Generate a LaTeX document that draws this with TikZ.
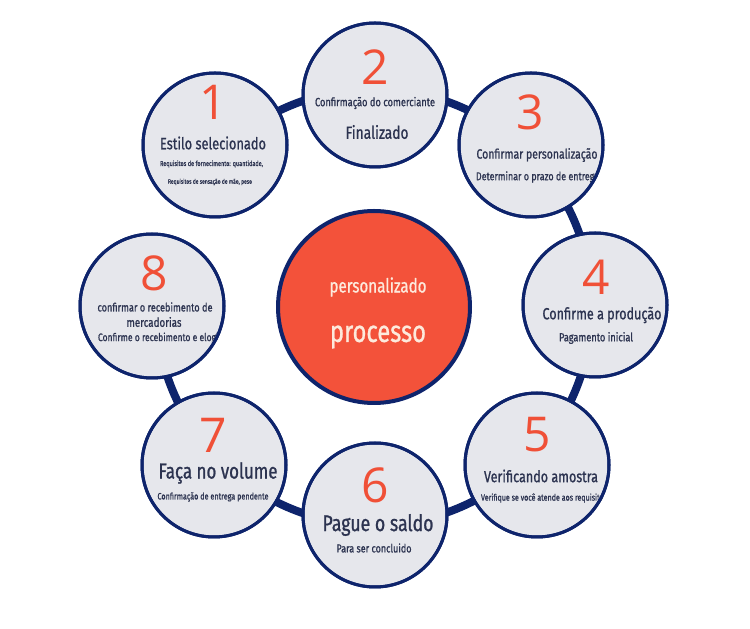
\documentclass[tikz,border=0pt]{standalone}
\usepackage{fontspec}
\usepackage{graphicx}
\newfontfamily\cf{Fira Sans}[FakeStretch=0.78,FakeBold=0.9]
\newfontfamily\nf{Open Sans}
\definecolor{navy}{RGB}{14,36,108}
\definecolor{bubfill}{RGB}{230,231,236}
\definecolor{coral}{RGB}{243,82,58}
\definecolor{numc}{RGB}{240,80,55}
\definecolor{txt}{RGB}{44,51,80}
\definecolor{cream}{RGB}{253,234,220}
\newcommand\tw[2]{\resizebox{#1pt}{!}{\cf #2}}
\begin{document}
\begin{tikzpicture}[x=1pt,y=1pt,
  bub/.style={circle,fill=bubfill,draw=navy,line width=3pt,minimum size=144pt,inner sep=0pt},
  hub/.style={circle,fill=coral,draw=navy,line width=4pt,minimum size=192pt,inner sep=0pt},
  ring/.style={draw=navy,line width=8pt},
  outl/.style={draw=navy,line width=3pt},
  num/.style={text=numc,font=\nf\fontsize{48}{48}\selectfont,inner sep=0pt},
  lbl/.style={text=txt,inner sep=0pt},
  hlbl/.style={text=cream,inner sep=0pt}]
\useasboundingbox (0,0) rectangle (750,629);
\coordinate (ctr) at (374,322);
\draw[ring] ([shift={(135:218)}]ctr) arc[start angle=135,end angle=-180,radius=218];
\node[hub] (c0) at (374,322) {};
\node[bub] (c1) at (215,484) {};
\node[bub] (c2) at (375,534) {};
\node[bub] (c3) at (531,484) {};
\node[bub] (c4) at (595,324) {};
\node[bub] (c5) at (537,164) {};
\node[bub] (c6) at (375,114) {};
\node[bub] (c7) at (214,164) {};
\node[bub] (c8) at (152,323) {};
% center
\node[hlbl] (h1) at (378,342) {\tw{97}{personalizado}};
\node[hlbl] (h2) at (378,292) {\tw{96}{processo}};
% 1
\begin{scope}
\clip (c1) circle[radius=73.5];
\node[num] (n1) at (213,527) {1};
\node[lbl] (t1a) at (213,486) {\tw{106}{Estilo selecionado}};
\node[lbl] (t1b) at (211.5,465) {\tw{103}{Requisitos de fornecimento: quantidade,}};
\node[lbl] (t1c) at (210,447) {\tw{84}{Requisitos de sensação de mão, peso}};
\end{scope}
% 2
\begin{scope}
\clip (c2) circle[radius=73.5];
\node[num] (n2) at (375,562) {2};
\node[lbl] (t2a) at (375,526) {\tw{120}{Confirmação do comerciante}};
\node[lbl] (t2b) at (377,497) {\tw{63}{Finalizado}};
\end{scope}
% 3
\begin{scope}
\clip (c3) circle[radius=73.5];
\node[num] (n3) at (530,517) {3};
\node[lbl] (t3a) at (537,474) {\tw{121}{Confirmar personalização}};
\node[lbl] (t3b) at (537.5,452) {\tw{123}{Determinar o prazo de entrega}};
\end{scope}
% 4
\begin{scope}
\clip (c4) circle[radius=73.5];
\node[num] (n4) at (596,352) {4};
\node[lbl] (t4a) at (602,314) {\tw{119}{Confirme a produção}};
\node[lbl] (t4b) at (596,291) {\tw{74}{Pagamento inicial}};
\end{scope}
% 5
\begin{scope}
\clip (c5) circle[radius=73.5];
\node[num] (n5) at (537,194) {5};
\node[lbl] (t5a) at (541,153) {\tw{114}{Verificando amostra}};
\node[lbl] (t5b) at (544,131) {\tw{126}{Verifique se você atende aos requisitos}};
\end{scope}
% 6
\begin{scope}
\clip (c6) circle[radius=73.5];
\node[num] (n6) at (375,144) {6};
\node[lbl] (t6a) at (378,104) {\tw{111}{Pague o saldo}};
\node[lbl] (t6b) at (374,81) {\tw{75}{Para ser concluido}};
\end{scope}
% 7
\begin{scope}
\clip (c7) circle[radius=73.5];
\node[num] (n7) at (213,194) {7};
\node[lbl] (t7a) at (218,156) {\tw{119}{Faça no volume}};
\node[lbl] (t7b) at (213,132) {\tw{111}{Confirmação de entrega pendente}};
\end{scope}
% 8
\begin{scope}
\clip (c8) circle[radius=73.5];
\node[num] (n8) at (154,356) {8};
\node[lbl] (t8a) at (155,322) {\tw{115}{confirmar o recebimento de}};
\node[lbl] (t8b) at (154,307) {\tw{55}{mercadorias}};
\node[lbl] (t8c) at (160.5,291) {\tw{125}{Confirme o recebimento e elogie}};
\end{scope}
% outlines over text
\foreach \c in {c1,c2,c3,c4,c5,c6,c7,c8} \draw[outl] (\c) circle[radius=72];
\end{tikzpicture}
\end{document}
